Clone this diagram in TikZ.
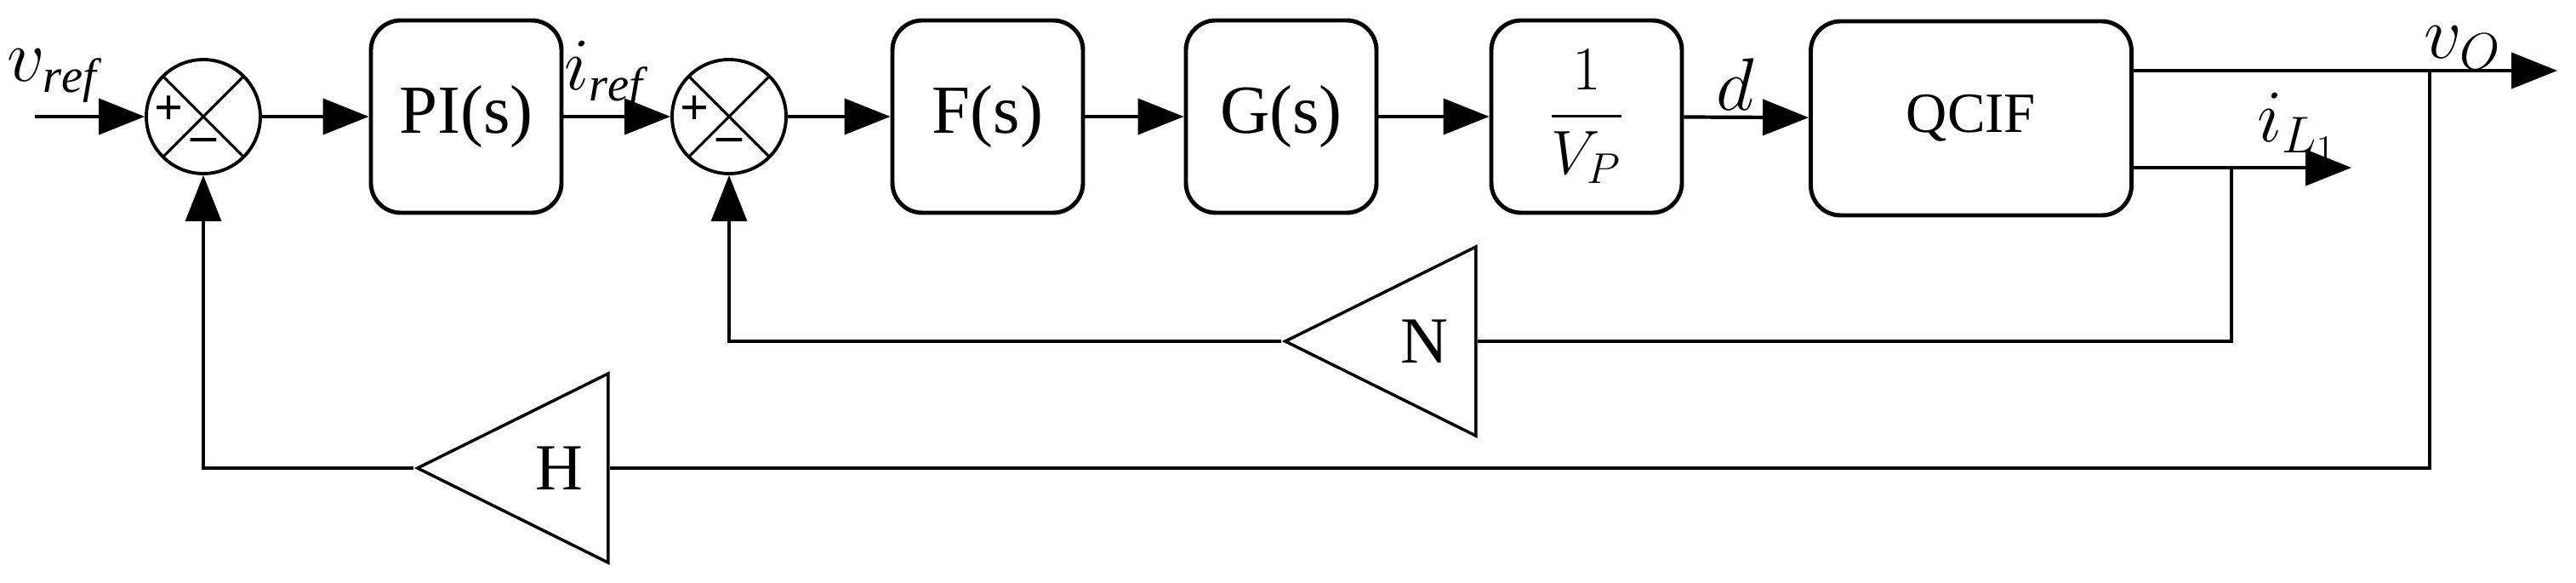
\documentclass[tikz,border=0pt]{standalone}
\usepackage{amsmath}
\usepackage{fontspec}
\setmainfont{Liberation Serif}
\usetikzlibrary{arrows.meta,shapes.geometric,calc}
\tikzset{
  blk/.style={draw,line width=1.4pt,rounded corners=0.35cm,minimum width=2.24cm,minimum height=2.26cm,font=\fontsize{23}{26}\selectfont},
  sum/.style={draw,circle,line width=1.1pt,minimum size=1.34cm,inner sep=0pt,
    path picture={\draw[line width=0.9pt] (path picture bounding box.north west) -- (path picture bounding box.south east)
      (path picture bounding box.north east) -- (path picture bounding box.south west);}},
  gain/.style={draw,isosceles triangle,isosceles triangle stretches,shape border rotate=180,line width=1pt,
    minimum width=2.22cm,minimum height=2.24cm,inner sep=0pt,font=\fontsize{22}{24}\selectfont},
  sig/.style={line width=1.2pt,-{Triangle[length=5.4mm,width=4.2mm]}},
  fb/.style={line width=0.9pt,-{Triangle[length=5.4mm,width=4.2mm]}},
  sgn/.style={font=\fontsize{17}{19}\selectfont\bfseries},
  lbl/.style={font=\fontsize{23}{25}\selectfont}
}
\begin{document}
\begin{tikzpicture}
\useasboundingbox (0,0) rectangle (30.28,6.84);
% blocks
\node[sum] (s1) at (2.39,5.47) {};
\node[blk] (pi) at (5.48,5.47) {PI(s)};
\node[sum] (s2) at (8.57,5.47) {};
\node[blk] (f) at (11.61,5.47) {F(s)};
\node[blk] (g) at (15.06,5.47) {G(s)};
\node[blk,font=\fontsize{22}{24}\selectfont] (vp) at (18.65,5.47) {$\dfrac{1}{V_P}$};
\node[blk,minimum width=3.77cm,minimum height=2.28cm,font=\fontsize{19}{22}\selectfont] (qcif) at (23.17,5.45) {QCIF};
\node[gain] (n) at (16.69,2.83) {\hspace*{0.1cm}N};
\node[gain] (h) at (6.47,1.34) {\hspace*{0.2cm}H};
% signs
\node[sgn] at ($(s1)+(-0.4,0.07)$) {+};
\node[sgn] at ($(s1)+(0,-0.33)$) {--};
\node[sgn] at ($(s2)+(-0.4,0.07)$) {+};
\node[sgn] at ($(s2)+(0,-0.33)$) {--};
% coordinates
\coordinate (in) at (0.41,5.47);
\coordinate (vo) at (30.06,6.01);
\coordinate (il) at (27.64,4.87);
\coordinate (tv) at (28.56,6.01);
\coordinate (ti) at (26.23,4.87);
% forward path
\draw[sig] (in) -- (s1);
\draw[sig] (s1) -- (pi);
\draw[sig] (pi) -- (s2);
\draw[sig] (s2) -- (f);
\draw[sig] (f) -- (g);
\draw[sig] (g) -- (vp);
\draw[sig] (vp) -- (qcif);
\draw[sig] (qcif.east |- vo) -- (vo);
\draw[sig] (qcif.east |- il) -- (il);
% feedback
\draw[line width=0.9pt] (ti) |- (n);
\draw[fb] (n.apex) -| (s2);
\draw[line width=0.9pt] (tv) |- (h);
\draw[fb] (h.apex) -| (s1);
% labels
\node[lbl] at (0.62,5.95) {$v_{\mathit{ref}}$};
\node[lbl] at (7.1,5.95) {$i_{\mathit{ref}}$};
\node[lbl] at (20.4,5.85) {$d$};
\node[lbl] at (28.95,6.28) {$v_O$};
\node[lbl] at (27.0,5.35) {$i_{L_1}$};
\end{tikzpicture}
\end{document}
